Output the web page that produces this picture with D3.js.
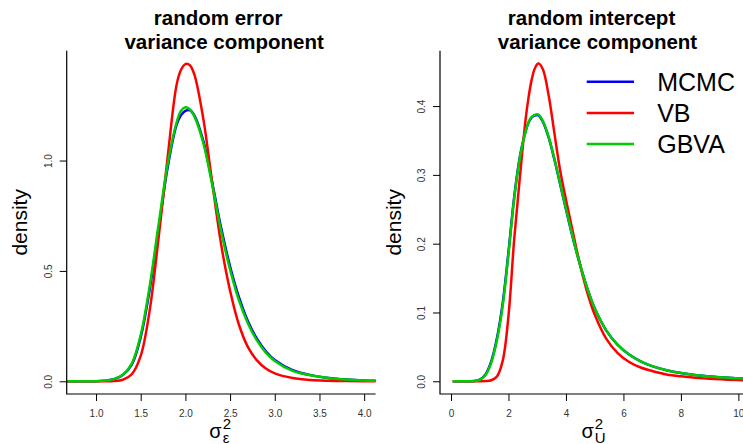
<!DOCTYPE html>
<html lang="en">
<head>
<meta charset="UTF-8">
<title>Variance component densities</title>
<style>
  body { margin: 0; background: #fff; }
  svg text { font-family: "Liberation Sans", Arial, Helvetica, sans-serif; }
  .tick text { font-size: 10px; fill: #333; }
  .tick line { stroke: #000; }
  .title { font-size: 20.5px; font-weight: bold; fill: #000; }
  .ylab { font-size: 21px; fill: #000; }
  .legend text { font-size: 25px; fill: #000; }
</style>
</head>
<body>
<div id="chart"></div>
<script src="https://d3js.org/d3.v7.min.js"></script>
<script>
// ---- data ----
const seriesNames = ["MCMC", "VB", "GBVA"];
const seriesColors = ["#0000ff", "#ff0000", "#00cd00"];

// left panel: random error variance
const errX = [0.6, 0.8, 1.0, 1.1, 1.2, 1.3, 1.4, 1.5, 1.6, 1.7, 1.8, 1.9, 1.95, 2.0, 2.05, 2.1,
              2.2, 2.3, 2.4, 2.5, 2.6, 2.7, 2.8, 2.9, 3.0, 3.2, 3.4, 3.6, 3.8, 4.0, 4.2];
const errMCMC = [0, 0, 0.0003, 0.003, 0.009, 0.028, 0.075, 0.20, 0.415, 0.69, 0.965, 1.16, 1.205, 1.225, 1.228, 1.205,
                 1.09, 0.90, 0.695, 0.52, 0.38, 0.272, 0.193, 0.136, 0.096, 0.050, 0.028, 0.015, 0.008, 0.004, 0.002];
const errVB   = [0, 0, 0, 0.0001, 0.001, 0.007, 0.032, 0.115, 0.32, 0.65, 1.01, 1.34, 1.41, 1.437, 1.432, 1.39,
                 1.19, 0.90, 0.62, 0.41, 0.255, 0.155, 0.095, 0.058, 0.036, 0.015, 0.006, 0.0025, 0.001, 0.0004, 0.0001];
const errGBVA = [0, 0, 0.0003, 0.003, 0.010, 0.030, 0.080, 0.21, 0.43, 0.71, 0.98, 1.17, 1.225, 1.241, 1.232, 1.20,
                 1.08, 0.89, 0.68, 0.505, 0.365, 0.262, 0.185, 0.13, 0.092, 0.047, 0.027, 0.015, 0.008, 0.004, 0.002];
const errXTicks = [1.0, 1.5, 2.0, 2.5, 3.0, 3.5, 4.0];
const errYTicks = [0.0, 0.5, 1.0];

// right panel: random intercept variance
const intX = [0.06, 0.5, 0.8, 1.0, 1.2, 1.4, 1.6, 1.8, 2.0, 2.2, 2.4, 2.6, 2.7, 2.8, 2.9, 3.0, 3.05, 3.2, 3.4,
              3.6, 3.8, 4.0, 4.2, 4.4, 4.6, 4.8, 5.0, 5.4, 5.8, 6.2, 6.6, 7.0, 7.5, 8.0, 9.0, 10.0, 10.5];
const intMCMC = [0, 0, 0.0004, 0.0025, 0.010, 0.029, 0.063, 0.114, 0.188, 0.268, 0.327, 0.364, 0.376, 0.383, 0.386, 0.387, 0.3865, 0.377, 0.354,
                 0.322, 0.286, 0.250, 0.215, 0.183, 0.154, 0.128, 0.106, 0.074, 0.053, 0.039, 0.029, 0.022, 0.016, 0.012, 0.007, 0.0045, 0.0035];
const intVB   = [0, 0, 0, 0, 0.0003, 0.0015, 0.007, 0.030, 0.095, 0.207, 0.298, 0.382, 0.413, 0.437, 0.453, 0.461, 0.462, 0.453, 0.415,
                 0.360, 0.306, 0.264, 0.225, 0.186, 0.151, 0.121, 0.097, 0.062, 0.041, 0.028, 0.020, 0.015, 0.010, 0.0072, 0.0035, 0.0017, 0.0012];
const intGBVA = [0, 0, 0.0003, 0.002, 0.009, 0.027, 0.060, 0.110, 0.185, 0.266, 0.326, 0.364, 0.377, 0.384, 0.387, 0.388, 0.3875, 0.378, 0.355,
                 0.323, 0.287, 0.251, 0.216, 0.183, 0.154, 0.128, 0.106, 0.074, 0.053, 0.039, 0.029, 0.022, 0.016, 0.012, 0.007, 0.0045, 0.0035];
const intXTicks = [0, 2, 4, 6, 8, 10];
const intYTicks = [0.0, 0.1, 0.2, 0.3, 0.4];

// ---- layout ----
const width = 743, height = 444;
const svg = d3.select("#chart").append("svg")
    .attr("width", width)
    .attr("height", height);

const panels = [
  {
    id: "err", left: 66.7, right: 375.6, top: 50.7, bottom: 394,
    xDomain: [0.672, 4.128], yDomain: [-0.0576, 1.4976],
    x: errX, ys: [errMCMC, errVB, errGBVA],
    xTicks: errXTicks, yTicks: errYTicks, xFmt: d3.format(".1f"), yFmt: d3.format(".1f"),
    title: ["random error", "variance component"], sub: "\u03b5", legend: false
  },
  {
    id: "int", left: 440, right: 749, top: 50.7, bottom: 394,
    xDomain: [-0.383, 10.37], yDomain: [-0.01848, 0.48048],
    x: intX, ys: [intMCMC, intVB, intGBVA],
    xTicks: intXTicks, yTicks: intYTicks, xFmt: d3.format("d"), yFmt: d3.format(".1f"),
    title: ["random intercept", "variance component"], sub: "U", legend: true
  }
];

panels.forEach(p => {
  const x = d3.scaleLinear().domain(p.xDomain).range([p.left, p.right]);
  const y = d3.scaleLinear().domain(p.yDomain).range([p.bottom, p.top]);
  const cx = (p.left + p.right) / 2;

  svg.append("clipPath").attr("id", "clip-" + p.id)
    .append("rect")
    .attr("x", p.left).attr("y", p.top)
    .attr("width", p.right - p.left).attr("height", p.bottom - p.top);

  // curves
  const line = d3.line()
      .x((d, i) => x(p.x[i]))
      .y(d => y(d))
      .curve(d3.curveCatmullRom.alpha(0.5));

  svg.append("g")
    .attr("clip-path", `url(#clip-${p.id})`)
    .selectAll("path")
    .data(p.ys)
    .enter()
    .append("path")
    .attr("d", d => line(d))
    .attr("fill", "none")
    .attr("stroke", (d, i) => seriesColors[i])
    .attr("stroke-width", 2.5)
    .attr("stroke-linejoin", "round");

  // L-shaped box
  svg.append("path")
    .attr("d", `M${p.left},${p.top}V${p.bottom}H${p.right}`)
    .attr("fill", "none")
    .attr("stroke", "#000")
    .attr("stroke-width", 1.2);

  // x axis
  const gx = svg.append("g")
    .attr("transform", `translate(0,${p.bottom})`)
    .call(d3.axisBottom(x).tickValues(p.xTicks).tickFormat(p.xFmt).tickSize(7).tickPadding(0));
  gx.select(".domain").remove();
  gx.selectAll(".tick text").attr("dy", 0).attr("y", 23);

  // y axis, labels rotated as in base R
  const gy = svg.append("g")
    .attr("transform", `translate(${p.left},0)`)
    .call(d3.axisLeft(y).tickValues(p.yTicks).tickFormat(p.yFmt).tickSize(7));
  gy.select(".domain").remove();
  gy.selectAll(".tick text")
    .attr("x", 0).attr("y", 0).attr("dy", 0)
    .attr("text-anchor", "middle")
    .attr("transform", "translate(-15,0) rotate(-90)");

  // titles
  svg.append("text").attr("class", "title")
    .attr("x", cx - 3).attr("y", 25).attr("text-anchor", "middle").text(p.title[0]);
  svg.append("text").attr("class", "title")
    .attr("x", cx + 3).attr("y", 49).attr("text-anchor", "middle").text(p.title[1]);

  // y label
  svg.append("text").attr("class", "ylab")
    .attr("text-anchor", "middle")
    .attr("transform", `translate(${p.left - 39.5},${(p.top + p.bottom) / 2}) rotate(-90)`)
    .text("density");

  // x label: sigma with superscript 2 and subscript
  const xl = svg.append("g");
  const sig = xl.append("text").attr("x", 0).attr("y", 438)
    .style("font-size", "20px").text("\u03c3");
  const sw = sig.node().getComputedTextLength();
  xl.append("text").attr("x", sw + 1).attr("y", 428.5)
    .style("font-size", "15px").text("2");
  xl.append("text").attr("x", sw + 1).attr("y", 443)
    .style("font-size", "15px").text(p.sub);
  const bw = xl.node().getBBox().width;
  xl.attr("transform", `translate(${cx - 1 - bw / 2},0)`);

  // legend
  if (p.legend) {
    const lg = svg.append("g").attr("class", "legend");
    const items = lg.selectAll("g").data(seriesNames).enter().append("g")
      .attr("transform", (d, i) => `translate(586.7,${81.7 + i * 31.2})`);
    items.append("line")
      .attr("x1", 0).attr("x2", 47.3)
      .attr("stroke", (d, i) => seriesColors[i])
      .attr("stroke-width", 2.5);
    items.append("text")
      .attr("x", 70.5).attr("y", 9)
      .text(d => d);
  }
});
</script>
</body>
</html>
